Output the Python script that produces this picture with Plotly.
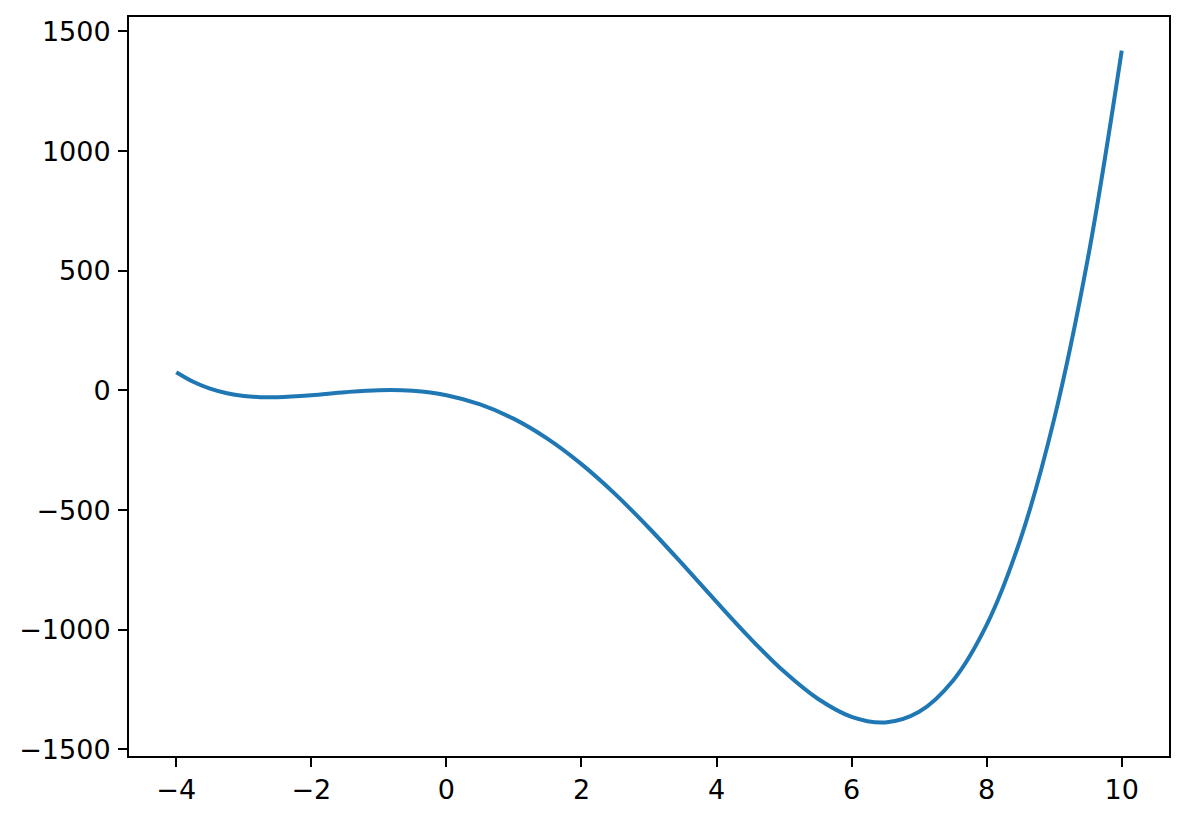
import plotly.graph_objects as go

# Values
x_vals = [-4.0, -3.75, -3.5, -3.25, -3.0, -2.75, -2.5, -2.0, -1.5, -1.0, -0.5, 0.0,
          0.5, 1.0, 1.5, 2.0, 2.5, 3.0, 3.5, 4.0, 4.5, 5.0, 5.5, 6.0, 6.5, 7.0,
          7.5, 8.0, 8.5, 9.0, 9.5, 10.0]
y_vals = [76, 36.2, 7.6, -11.6, -23, -28.1, -28.4, -20, -7.4, 1, -1.4, -20,
          -58.4, -119, -202.4, -308, -433.4, -575, -727.4, -884, -1036.4, -1175,
          -1288.4, -1364, -1387.4, -1343, -1213.4, -980, -622.4, -119, 553.6, 1420]

x_ticks = [-4, -2, 0, 2, 4, 6, 8, 10]
y_ticks = [-1500, -1000, -500, 0, 500, 1000, 1500]

fig = go.Figure()
fig.add_trace(go.Scatter(x=x_vals, y=y_vals, mode="lines",
                         line=dict(color="#1f77b4", width=4, shape="spline", smoothing=1.0),
                         showlegend=False, hoverinfo="skip"))

font = dict(family="DejaVu Sans", size=27, color="black")
axis_common = dict(showgrid=False, zeroline=False, showline=True, linecolor="black",
                   linewidth=2, mirror=True, ticks="outside", ticklen=9, tickwidth=2,
                   tickcolor="black", tickfont=font, automargin=False)

xmin, xmax = min(x_vals), max(x_vals)
ymin, ymax = min(y_vals), max(y_vals)
xpad = 0.05 * (xmax - xmin)
ypad = 0.05 * (ymax - ymin)

fig.update_layout(
    width=1189, height=822,
    margin=dict(l=129, r=20, t=17, b=66),
    paper_bgcolor="white", plot_bgcolor="white",
    xaxis=dict(range=[xmin - xpad, xmax + xpad], tickmode="array", tickvals=x_ticks,
               ticklabelstandoff=0, **axis_common),
    yaxis=dict(range=[ymin - ypad, ymax + ypad], tickmode="array", tickvals=y_ticks,
               ticklabelstandoff=2, **axis_common),
)

fig.write_html("out.html", config={"displayModeBar": False},
               post_script="document.body.style.margin='0px';")
